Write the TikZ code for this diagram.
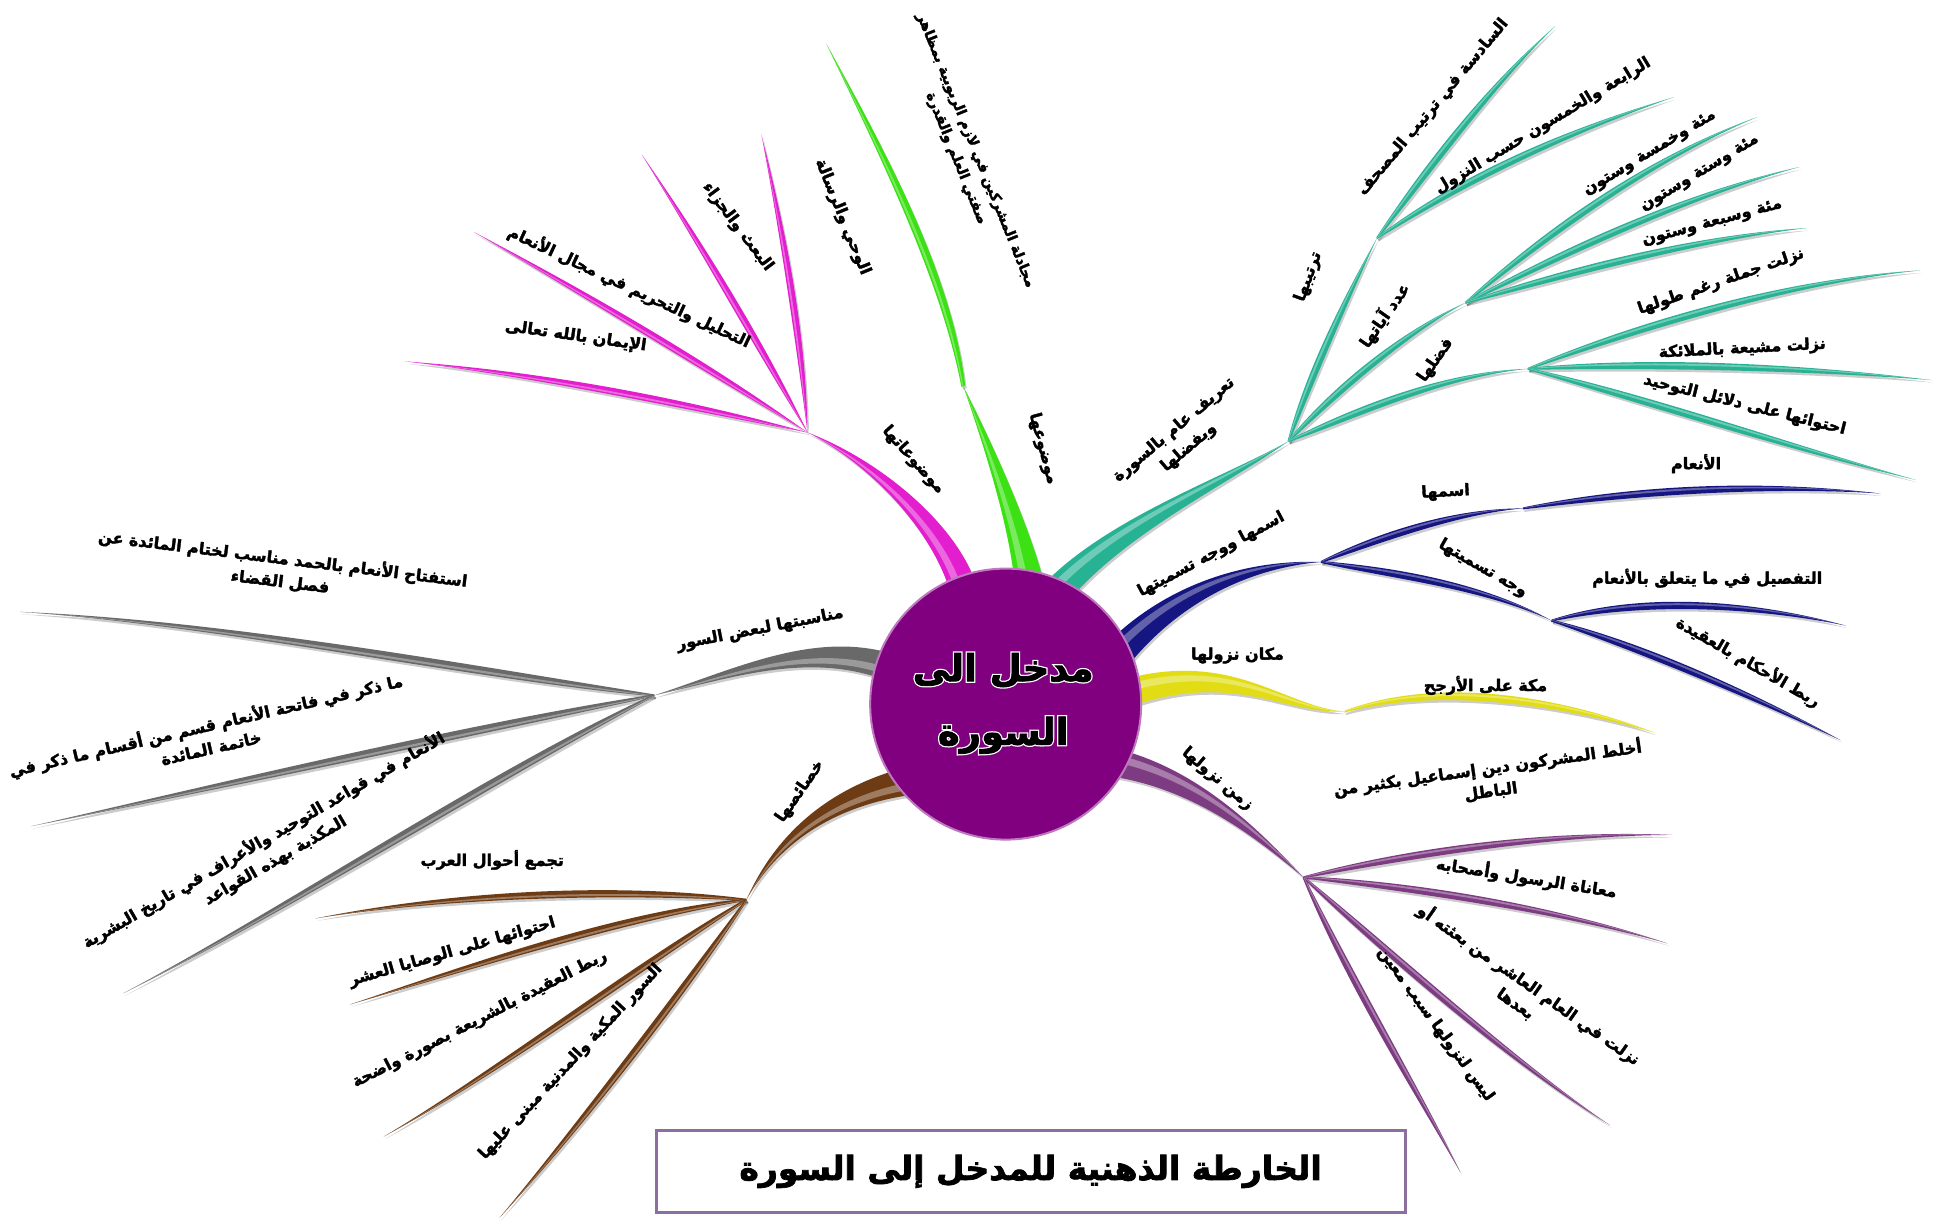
\documentclass[tikz,border=0pt]{standalone}
\usepackage{fontspec}
\usetikzlibrary{calc}
\TeXXeTstate=1
\newfontfamily\ar[Script=Arabic,BoldFeatures={FakeBold=2.2}]{DejaVu Sans}
\newfontfamily\arglow[Script=Arabic,BoldFeatures={FakeBold=9}]{DejaVu Sans}
\definecolor{pinkc}{RGB}{226,30,206}
\definecolor{greenc}{RGB}{60,225,20}
\definecolor{tealc}{RGB}{40,178,148}
\definecolor{navyc}{RGB}{22,22,130}
\definecolor{yelc}{RGB}{225,220,20}
\definecolor{purc}{RGB}{125,60,130}
\definecolor{greyc}{RGB}{105,105,105}
\definecolor{brownc}{RGB}{110,60,20}
\definecolor{circc}{RGB}{128,0,128}
\definecolor{circb}{RGB}{190,120,190}
\definecolor{titleb}{RGB}{140,110,160}
\newcommand\lfshape[9]{%
  \fill[#8] let \p1=($(#4)-(#1)$), \n1={atan2(\y1,\x1)} in
    ($(#1)+(\n1+90:#5)$) .. controls ($(#2)+(\n1+90:#6)$) and ($(#3)+(\n1+90:#7)$) .. (#4)
    .. controls ($(#3)+(\n1+90:#9*#7)$) and ($(#2)+(\n1+90:#9*#6)$) .. ($(#1)+(\n1+90:#9*#5)$) -- cycle;}
\newcommand\brn[8]{%
  \lfshape{#1}{#2}{#3}{#4}{#5}{#6}{#7}{black,opacity=.2,transform canvas={shift={(1.5pt,-2.5pt)}}}{-1}%
  \lfshape{#1}{#2}{#3}{#4}{#5}{#6}{#7}{#8}{-1}%
  \lfshape{#1}{#2}{#3}{#4}{0.6*#5}{0.6*#6}{0.6*#7}{#8!45!white,opacity=.6}{0.1}}
\begin{document}
\begin{tikzpicture}[x=1.2462pt,y=-1.2462pt,
  lbl/.style={font=\ar\bfseries\fontsize{16}{23}\selectfont,inner sep=1pt,text=black},
  ctext/.style={font=\ar\bfseries\fontsize{37}{44}\selectfont,inner sep=0pt},
  cglow/.style={font=\arglow\bfseries\fontsize{37}{44}\selectfont,inner sep=0pt,text=white}]
\useasboundingbox (0,0) rectangle (1568,983);
\fill[white] (0,0) rectangle (1568,983);
% ---------- coordinates
\coordinate (C) at (807,565);
\coordinate (pkB) at (772,470);  \coordinate (pkH) at (648,347);
\coordinate (pk1) at (325,290); \coordinate (pk2) at (380,186);
\coordinate (pk3) at (515,124); \coordinate (pk4) at (611,108);
\coordinate (gB) at (826,470); \coordinate (gH) at (773,310); \coordinate (gT) at (663,35);
\coordinate (tB) at (850,473); \coordinate (tH) at (1034,354);
\coordinate (t1) at (1105,191); \coordinate (t11) at (1248,21); \coordinate (t12) at (1343,78);
\coordinate (t2) at (1176,243); \coordinate (t21) at (1410,94); \coordinate (t22) at (1444,134); \coordinate (t23) at (1450,183);
\coordinate (t3) at (1226,296); \coordinate (t31) at (1541,217); \coordinate (t32) at (1550,305); \coordinate (t33) at (1537,385);
\coordinate (nB) at (902,520); \coordinate (nH) at (1060,451);
\coordinate (n1) at (1222,408); \coordinate (n11) at (1509,396);
\coordinate (n2) at (1245,498); \coordinate (n21) at (1481,502); \coordinate (n22) at (1477,594);
\coordinate (yB) at (905,556); \coordinate (yH) at (1079,571); \coordinate (yT) at (1328,588);
\coordinate (puB) at (893,612); \coordinate (puH) at (1046,704);
\coordinate (pu1) at (1342,670); \coordinate (pu2) at (1338,757); \coordinate (pu3) at (1292,903); \coordinate (pu4) at (1172,941);
\coordinate (grB) at (712,535); \coordinate (grH) at (525,558);
\coordinate (gr1) at (16,491); \coordinate (gr2) at (25,663); \coordinate (gr3) at (99,797);
\coordinate (bB) at (725,628); \coordinate (bH) at (599,722);
\coordinate (b1) at (253,737); \coordinate (b2) at (281,806); \coordinate (b3) at (308,912); \coordinate (b4) at (401,977);
% ---------- branches
% pink
\brn{pkB}{755,420}{700,370}{pkH}{15pt}{10pt}{4pt}{pinkc}
\brn{pkH}{540,322}{430,300}{pk1}{0pt}{6pt}{3pt}{pinkc}
\brn{pkH}{560,290}{470,236}{pk2}{0pt}{6pt}{3pt}{pinkc}
\brn{pkH}{608,275}{565,200}{pk3}{0pt}{6pt}{3pt}{pinkc}
\brn{pkH}{642,265}{628,185}{pk4}{0pt}{6pt}{3pt}{pinkc}
% green
\brn{gB}{818,420}{790,350}{gH}{15pt}{9pt}{4pt}{greenc}
\brn{gH}{760,225}{712,130}{gT}{2pt}{6pt}{4pt}{greenc}
% teal
\brn{tB}{900,420}{985,385}{tH}{15pt}{10pt}{4pt}{tealc}
\brn{tH}{1052,300}{1080,240}{t1}{1pt}{6pt}{3pt}{tealc}
\brn{t1}{1150,130}{1195,70}{t11}{1pt}{6pt}{3pt}{tealc}
\brn{t1}{1180,140}{1260,105}{t12}{1pt}{6pt}{3pt}{tealc}
\brn{tH}{1075,310}{1130,265}{t2}{1pt}{6pt}{3pt}{tealc}
\brn{t2}{1250,180}{1330,125}{t21}{1pt}{6pt}{3pt}{tealc}
\brn{t2}{1270,195}{1360,155}{t22}{1pt}{6pt}{3pt}{tealc}
\brn{t2}{1270,215}{1370,190}{t23}{1pt}{6pt}{3pt}{tealc}
\brn{tH}{1090,330}{1160,300}{t3}{1pt}{6pt}{3pt}{tealc}
\brn{t3}{1320,260}{1440,225}{t31}{1pt}{6pt}{3pt}{tealc}
\brn{t3}{1330,290}{1450,295}{t32}{1pt}{6pt}{3pt}{tealc}
\brn{t3}{1320,320}{1440,360}{t33}{1pt}{6pt}{3pt}{tealc}
% navy
\brn{nB}{950,470}{1010,452}{nH}{16pt}{9pt}{4pt}{navyc}
\brn{nH}{1110,430}{1170,410}{n1}{1pt}{6pt}{3pt}{navyc}
\brn{n1}{1320,392}{1420,388}{n11}{1pt}{6pt}{3pt}{navyc}
\brn{nH}{1120,460}{1190,470}{n2}{1pt}{6pt}{3pt}{navyc}
\brn{n2}{1320,478}{1410,485}{n21}{1pt}{6pt}{3pt}{navyc}
\brn{n2}{1320,520}{1410,560}{n22}{1pt}{6pt}{3pt}{navyc}
% yellow
\brn{yB}{990,530}{1030,570}{yH}{15pt}{9pt}{4pt}{yelc}
\brn{yH}{1160,545}{1260,565}{yT}{1pt}{6pt}{4pt}{yelc}
% purple
\brn{puB}{960,625}{1010,670}{puH}{15pt}{9pt}{4pt}{purc}
\brn{puH}{1130,685}{1240,668}{pu1}{1pt}{6pt}{3pt}{purc}
\brn{puH}{1140,712}{1250,730}{pu2}{1pt}{6pt}{3pt}{purc}
\brn{puH}{1110,760}{1210,850}{pu3}{1pt}{6pt}{3pt}{purc}
\brn{puH}{1085,790}{1140,880}{pu4}{1pt}{6pt}{3pt}{purc}
% grey
\brn{grB}{650,515}{590,540}{grH}{15pt}{9pt}{4pt}{greyc}
\brn{grH}{380,540}{180,500}{gr1}{1pt}{7pt}{3pt}{greyc}
\brn{grH}{380,585}{180,630}{gr2}{1pt}{7pt}{3pt}{greyc}
\brn{grH}{400,620}{230,730}{gr3}{1pt}{7pt}{3pt}{greyc}
% brown
\brn{bB}{670,640}{625,670}{bH}{15pt}{9pt}{4pt}{brownc}
\brn{bH}{490,712}{360,718}{b1}{1pt}{6pt}{3pt}{brownc}
\brn{bH}{500,735}{380,775}{b2}{1pt}{6pt}{3pt}{brownc}
\brn{bH}{520,770}{400,860}{b3}{1pt}{6pt}{3pt}{brownc}
\brn{bH}{545,800}{460,910}{b4}{1pt}{6pt}{3pt}{brownc}
% ---------- centre
\node[circle,fill=circc,draw=circb,line width=2pt,minimum size=271pt,inner sep=0pt] (ctr) at (C) {};
\node[cglow] (glowA) at (805,538) {\beginR مدخل الى\endR};
\node[cglow] (glowB) at (805,590) {\beginR السورة\endR};
\node[ctext] (ct1) at (805,538) {\beginR مدخل الى\endR};
\node[ctext] (ct2) at (805,590) {\beginR السورة\endR};
% ---------- labels
\node[lbl,rotate=-48] (Lpk) at (733,369) {\beginR موضوعاتها\endR};
\node[lbl,rotate=-8] (Lpk1) at (462,270) {\beginR الإيمان بالله تعالى\endR};
\node[lbl,rotate=-25] (Lpk2) at (505,230) {\beginR التحليل والتحريم في مجال الأنعام\endR};
\node[lbl,rotate=-53] (Lpk3) at (592,182) {\beginR البعث والجزاء\endR};
\node[lbl,rotate=-68] (Lpk4) at (676,174) {\beginR الوحي والرسالة\endR};
\node[lbl,rotate=-75] (Lg) at (837,360) {\beginR موضوعها\endR};
\node[lbl,rotate=-68,align=center,font=\ar\bfseries\fontsize{14}{21}\selectfont] (Lg1) at (775,124) {\beginR مجادلة المشركين في لازم الربوبية بمظاهر\endR\\\beginR صفتي العلم والقدرة\endR};
\node[lbl,rotate=40,align=center] (Lt) at (948,352) {\beginR تعريف عام بالسورة\endR\\\beginR وبفضلها\endR};
\node[lbl,rotate=70] (Lt1) at (1050,222) {\beginR ترتيبها\endR};
\node[lbl,rotate=50] (Lt11) at (1150,86) {\beginR السادسة في ترتيب المصحف\endR};
\node[lbl,rotate=31] (Lt12) at (1238,101) {\beginR الرابعة والخمسون حسب النزول\endR};
\node[lbl,rotate=55] (Lt2) at (1111,253) {\beginR عدد آياتها\endR};
\node[lbl,rotate=31] (Lt21) at (1324,123) {\beginR مئة وخمسة وستون\endR};
\node[lbl,rotate=31] (Lt22) at (1364,139) {\beginR مئة وستة وستون\endR};
\node[lbl,rotate=15] (Lt23) at (1374,179) {\beginR مئة وسبعة وستون\endR};
\node[lbl,rotate=55] (Lt3) at (1152,289) {\beginR فضلها\endR};
\node[lbl,rotate=19] (Lt31) at (1381,226) {\beginR نزلت جملة رغم طولها\endR};
\node[lbl,rotate=3] (Lt32) at (1398,280) {\beginR نزلت مشيعة بالملائكة\endR};
\node[lbl,rotate=-14] (Lt33) at (1400,325) {\beginR احتوائها على دلائل التوحيد\endR};
\node[lbl,rotate=28] (Ln) at (972,445) {\beginR اسمها ووجه تسميتها\endR};
\node[lbl,rotate=3] (Ln1) at (1160,395) {\beginR اسمها\endR};
\node[lbl] (Ln11) at (1361,372) {\beginR الأنعام\endR};
\node[lbl,rotate=-30] (Ln2) at (1190,456) {\beginR وجه تسميتها\endR};
\node[lbl] (Ln21) at (1370,464) {\beginR التفصيل في ما يتعلق بالأنعام\endR};
\node[lbl,rotate=-30] (Ln22) at (1403,531) {\beginR ربط الأحكام بالعقيدة\endR};
\node[lbl] (Ly) at (993,526) {\beginR مكان نزولها\endR};
\node[lbl] (Ly1) at (1192,550) {\beginR مكة على الأرجح\endR};
\node[lbl,rotate=-40] (Lpu) at (977,625) {\beginR زمن نزولها\endR};
\node[lbl,rotate=8,align=center] (Lpu1) at (1195,625) {\beginR أخلط المشركون دين إسماعيل بكثير من\endR\\\beginR الباطل\endR};
\node[lbl,rotate=-9] (Lpu2) at (1225,704) {\beginR معاناة الرسول وأصحابه\endR};
\node[lbl,rotate=-35,align=center] (Lpu3) at (1222,797) {\beginR نزلت في العام العاشر من بعثته أو\endR\\\beginR بعدها\endR};
\node[lbl,rotate=-54] (Lpu4) at (1152,822) {\beginR ليس لنزولها سبب معين\endR};
\node[lbl,rotate=11] (Lgr) at (610,505) {\beginR مناسبتها لبعض السور\endR};
\node[lbl,rotate=-7,align=center] (Lgr1) at (226,457) {\beginR استفتاح الأنعام بالحمد مناسب لختام المائدة عن\endR\\\beginR فصل القضاء\endR};
\node[lbl,rotate=13,align=center] (Lgr2) at (167,590) {\beginR ما ذكر في فاتحة الأنعام قسم من أقسام ما ذكر في\endR\\\beginR خاتمة المائدة\endR};
\node[lbl,rotate=30,align=center] (Lgr3) at (216,682) {\beginR الأنعام في قواعد التوحيد والأعراف في تاريخ البشرية\endR\\\beginR المكذبة بهذه القواعد\endR};
\node[lbl,rotate=55] (Lb) at (642,635) {\beginR خصائصها\endR};
\node[lbl] (Lb1) at (395,690) {\beginR تجمع أحوال العرب\endR};
\node[lbl,rotate=16] (Lb2) at (363,764) {\beginR احتوائها على الوصايا العشر\endR};
\node[lbl,rotate=27] (Lb3) at (385,818) {\beginR ربط العقيدة بالشريعة بصورة واضحة\endR};
\node[lbl,rotate=47] (Lb4) at (458,852) {\beginR السور المكية والمدنية مبنى عليها\endR};
% ---------- title
\node[draw=titleb,line width=3pt,minimum width=749pt,minimum height=82pt,fill=white,
      font=\ar\bfseries\fontsize{33}{38}\selectfont] (title) at (827,940) {\beginR الخارطة الذهنية للمدخل إلى السورة\endR};
\end{tikzpicture}
\end{document}
